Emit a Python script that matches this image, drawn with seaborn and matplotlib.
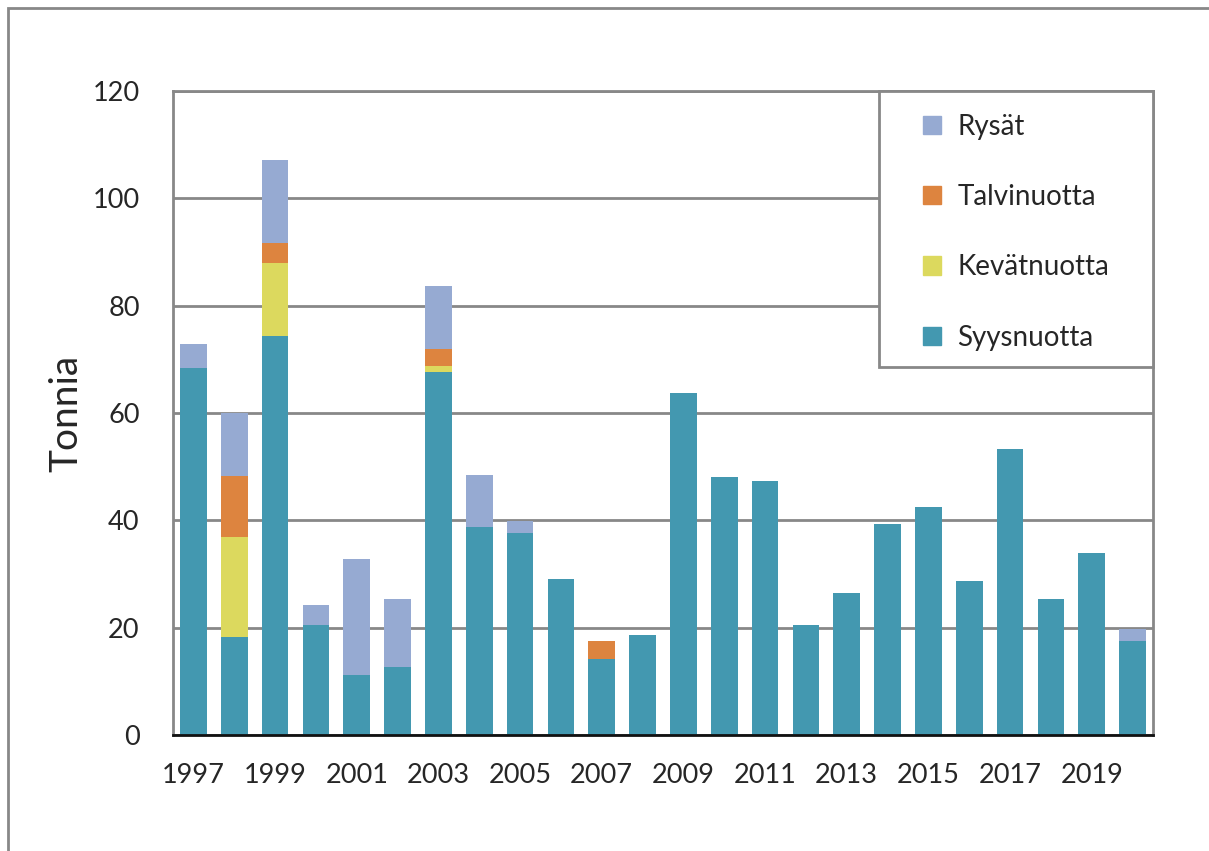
import numpy as np
import pandas as pd
import matplotlib.pyplot as plt
import matplotlib.patches as mpatches
import seaborn as sns

years = list(range(1997, 2021))
syysnuotta = [68.4, 18.3, 74.3, 20.5, 11.2, 12.7, 67.7, 38.8, 37.6, 29.1, 14.2, 18.6,
              63.7, 48.0, 47.3, 20.5, 26.5, 39.4, 42.5, 28.7, 53.2, 25.3, 33.9, 17.5]
kevatnuotta = [0, 18.6, 13.7, 0, 0, 0, 1.1, 0, 0, 0, 0, 0,
               0, 0, 0, 0, 0, 0, 0, 0, 0, 0, 0, 0]
talvinuotta = [0, 11.4, 3.7, 0, 0, 0, 3.1, 0, 0, 0, 3.4, 0,
               0, 0, 0, 0, 0, 0, 0, 0, 0, 0, 0, 0]
rysat = [4.5, 11.7, 15.4, 3.7, 21.6, 12.6, 11.8, 9.6, 2.3, 0, 0, 0,
         0, 0, 0, 0, 0, 0, 0, 0, 0, 0, 0, 2.3]

series = ['Syysnuotta', 'Kevätnuotta', 'Talvinuotta', 'Rysät']
colors = ['#4398b0', '#dcd95e', '#dd843f', '#96aad2']

df = pd.DataFrame({'year': [str(y) for y in years], 'Syysnuotta': syysnuotta,
                   'Kevätnuotta': kevatnuotta, 'Talvinuotta': talvinuotta, 'Rysät': rysat})

sns.set_style('white')
plt.rcParams['font.family'] = ['Lato', 'DejaVu Sans']

fig = plt.figure(figsize=(12.09, 8.51), dpi=100)
ax = fig.add_axes([173 / 1209, 1 - 735 / 851, 980 / 1209, 644 / 851])

bottom = np.zeros(len(years))
for name, col in zip(series, colors):
    sns.barplot(data=df, x='year', y=name, color=col, width=0.65, bottom=bottom,
                ax=ax, saturation=1, linewidth=0)
    bottom += df[name].values

ax.set_ylim(0, 120)
ax.set_xlim(-0.5, len(years) - 0.5)
ax.set_yticks(range(0, 121, 20))
ax.set_xticks(range(0, len(years), 2))
ax.set_xticklabels([str(y) for y in years[::2]])
ax.tick_params(axis='y', labelsize=19.5, length=0, pad=24)
ax.tick_params(axis='x', labelsize=19.5, length=0, pad=20)
ax.set_xlabel('')
ax.set_ylabel('Tonnia', fontsize=28, labelpad=6)
ax.yaxis.grid(True, color='#888888', linewidth=2)
ax.set_axisbelow(True)
for s in ['left', 'right', 'top']:
    ax.spines[s].set_color('#888888')
    ax.spines[s].set_linewidth(2)
ax.spines['bottom'].set_color('#111111')
ax.spines['bottom'].set_linewidth(2)

# legend box drawn separately so its size matches the original
box = mpatches.Rectangle((0.7204, 0.5714), 1 - 0.7204, 1 - 0.5714, transform=ax.transAxes,
                         facecolor='white', edgecolor='#888888', linewidth=2, zorder=4,
                         clip_on=False)
ax.add_patch(box)
handles = [mpatches.Patch(color=c, label=n) for n, c in zip(series, colors)][::-1]
leg = ax.legend(handles=handles, loc='upper left', bbox_to_anchor=(0.7653, 0.965), borderaxespad=0,
                fontsize=20, frameon=False, handlelength=0.65, handleheight=0.65,
                handletextpad=0.58, labelspacing=1.6, borderpad=0)
leg.set_zorder(5)

border = mpatches.Rectangle((8 / 1209, -0.1), 1.2, 1 - 8 / 851 + 0.1, transform=fig.transFigure,
                            fill=False, edgecolor='#888888', linewidth=2)
fig.patches.append(border)

fig.savefig('out.png', dpi=100)
